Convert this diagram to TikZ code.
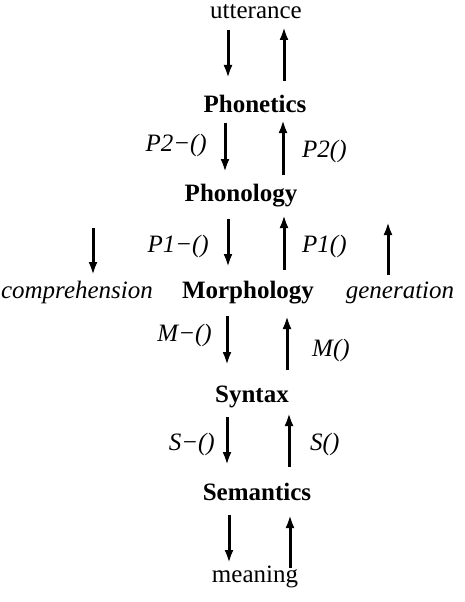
\documentclass[tikz,border=0pt]{standalone}
\usepackage{fontspec}
\setmainfont{Liberation Serif}
\usetikzlibrary{arrows.meta}

\tikzset{
  lvl/.style={inner sep=0pt, anchor=base, font=\fontsize{25}{30}\selectfont\bfseries},
  word/.style={inner sep=0pt, anchor=base, font=\fontsize{25}{30}\selectfont},
  fn/.style={inner sep=0pt, font=\fontsize{25}{30}\selectfont\itshape},
  arr/.style={line width=3pt, -{Latex[length=13pt,width=9pt]}}
}

\begin{document}
\begin{tikzpicture}[x=1pt,y=-1pt]
    \useasboundingbox (0,0) rectangle (464,602);

    % levels
    \node[word] (utter) at (256,19) {utterance};
    \node[lvl] (phonetics) at (255,112) {Phonetics};
    \node[lvl] (phonology) at (241,201) {Phonology};
    \node[lvl] (morph) at (248,298) {Morphology};
    \node[lvl] (syntax) at (252,402) {Syntax};
    \node[lvl] (semantics) at (257,500) {Semantics};
    \node[word] (meaning) at (255,582) {meaning};

    % direction labels
    \node[fn, anchor=base] (comp) at (77,298) {comprehension};
    \node[fn, anchor=base] (gen) at (400,298) {generation};

    % function labels
    \node[fn, anchor=base east] (p2inv) at (207,151) {P2−()};
    \node[fn, anchor=base west] (p2) at (302,157) {P2()};
    \node[fn, anchor=base east] (p1inv) at (209,252) {P1−()};
    \node[fn, anchor=base west] (p1) at (302,252) {P1()};
    \node[fn, anchor=base east] (minv) at (212,341) {M−()};
    \node[fn, anchor=base west] (m) at (312,356) {M()};
    \node[fn, anchor=base east] (sinv) at (215,450) {S−()};
    \node[fn, anchor=base west] (s) at (310,450) {S()};

    % arrow ends
    \coordinate (d0a) at (228,30);  \coordinate (d0b) at (228,78);
    \coordinate (u0a) at (284,81);  \coordinate (u0b) at (284,27);
    \coordinate (d1a) at (225,123); \coordinate (d1b) at (225,172);
    \coordinate (u1a) at (283,175); \coordinate (u1b) at (283,120);
    \coordinate (d2a) at (228,219); \coordinate (d2b) at (228,267);
    \coordinate (u2a) at (284,270); \coordinate (u2b) at (284,215);
    \coordinate (dca) at (93,228);  \coordinate (dcb) at (93,275);
    \coordinate (uga) at (388,275); \coordinate (ugb) at (388,222);
    \coordinate (d3a) at (227,316); \coordinate (d3b) at (227,365);
    \coordinate (u3a) at (287,370); \coordinate (u3b) at (287,316);
    \coordinate (d4a) at (227,417); \coordinate (d4b) at (227,465);
    \coordinate (u4a) at (289,467); \coordinate (u4b) at (289,413);
    \coordinate (d5a) at (229,515); \coordinate (d5b) at (229,563);
    \coordinate (u5a) at (290,568); \coordinate (u5b) at (290,515);

    % arrows
    \draw[arr] (d0a) -- (d0b);
    \draw[arr] (u0a) -- (u0b);
    \draw[arr] (d1a) -- (d1b);
    \draw[arr] (u1a) -- (u1b);
    \draw[arr] (d2a) -- (d2b);
    \draw[arr] (u2a) -- (u2b);
    \draw[arr] (dca) -- (dcb);
    \draw[arr] (uga) -- (ugb);
    \draw[arr] (d3a) -- (d3b);
    \draw[arr] (u3a) -- (u3b);
    \draw[arr] (d4a) -- (d4b);
    \draw[arr] (u4a) -- (u4b);
    \draw[arr] (d5a) -- (d5b);
    \draw[arr] (u5a) -- (u5b);
\end{tikzpicture}
\end{document}
